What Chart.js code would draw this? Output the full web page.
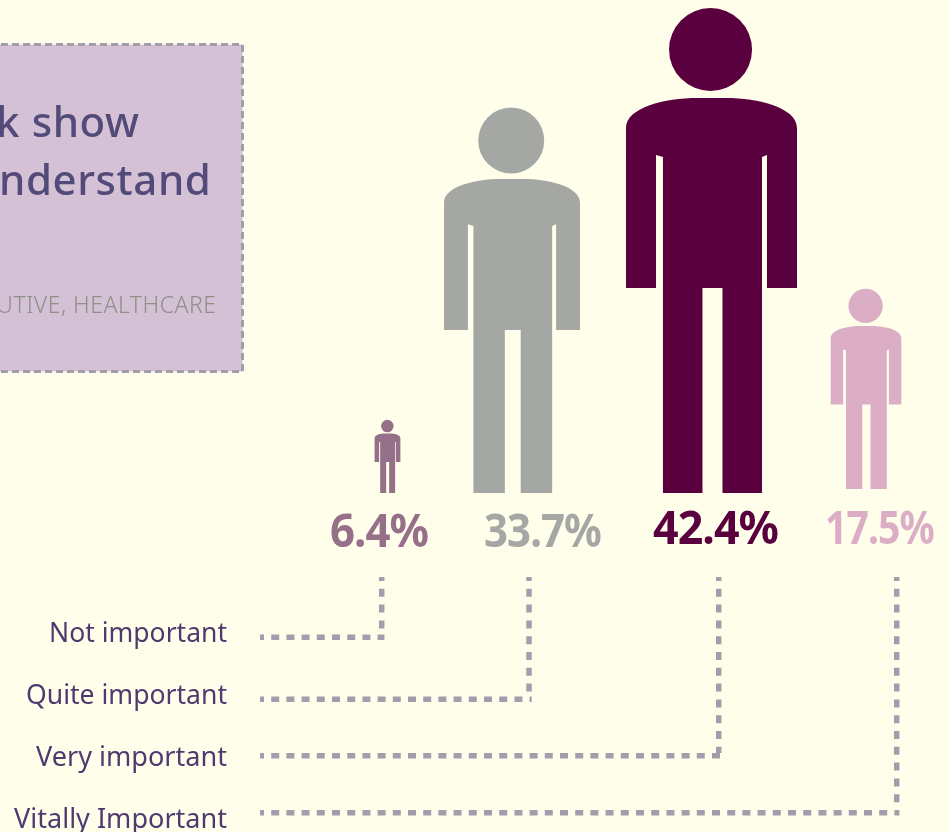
<!DOCTYPE html>
<html>
<head>
<meta charset="utf-8">
<title>Importance</title>
<style>
  html, body { margin: 0; padding: 0; background: #fffeeb; overflow: hidden; }
  canvas { display: block; }
</style>
<script src="https://cdn.jsdelivr.net/npm/chart.js@4/dist/chart.umd.min.js"></script>
</head>
<body>
<canvas id="chart" width="949" height="832"></canvas>
<script>
// data
const categories = ['Not important', 'Quite important', 'Very important', 'Vitally Important'];
const shares = [6.4, 33.7, 42.4, 17.5];
const titleLines = ['k show', 'nderstand'];
const sourceLine = 'UTIVE, HEALTHCARE';

// layout and styles, all in page pixels
const colors = ['#957088', '#a5a7a4', '#5a003f', '#dbaec5'];
const figureX = [387.5, 512, 711.5, 866];
const figureLift = [0, 0, 0, 0.35];
const valueX = [379, 542.5, 715.5, 879.5];
const valueBase = [547, 547, 544, 544];
const valueWidth = [98, 117, 125, 109];
const leaderY = [637.3, 699.3, 755.7, 812.7];
const leaderX = [381.7, 529, 718.7, 896.7];
const labelBase = [642, 704, 766, 828];
const labelWidth = [178, 201, 191, 213];
const W = 949, H = 832;
const baseY = 493, pxPerPct = 485 / 42.4;

const figureData = categories.map((c, i) => ({
  x: figureX[i],
  y: [figureLift[i], figureLift[i] + shares[i]]
}));

function leaderLine(label, points, dash) {
  return {
    type: 'line',
    label,
    yAxisID: 'yPx',
    data: points,
    borderColor: '#a29dab',
    borderWidth: 5.5,
    borderDash: dash,
    borderDashOffset: 4,
    pointRadius: 0,
    tension: 0,
    fill: false
  };
}

// across from the label, then a separate run down from the top so the dashes line up
const leaderSets = categories.flatMap((c, i) => [
  leaderLine(c, [{ x: 260, y: leaderY[i] }, { x: leaderX[i] + 2.7, y: leaderY[i] }], [8, 7.2]),
  leaderLine(c, [{ x: leaderX[i], y: 577 }, { x: leaderX[i], y: leaderY[i] - 2.7 }], [8, 7.8])
]);

// one person, proportions measured against total height
function drawPerson(ctx, cx, top, h, color) {
  const p = (dx, dy) => [cx + dx * h, top + dy * h];
  const off = 0.002;
  ctx.fillStyle = color;
  ctx.beginPath();
  ctx.arc(cx - off * h, top + 0.0856 * h, 0.0856 * h, 0, Math.PI * 2);
  ctx.fill();

  const shoulder = 0.1763, armIn = 0.1144, torso = 0.1021, gap = 0.0206;
  const topY = 0.1856, sideY = 0.2474, pitY = 0.303, pitY2 = 0.3072, crotch = 0.5773;
  ctx.beginPath();
  ctx.moveTo(...p(-shoulder, sideY));
  ctx.bezierCurveTo(...p(-shoulder, 0.205), ...p(-0.095, topY), ...p(-0.03, topY));
  ctx.lineTo(...p(0.03, topY));
  ctx.bezierCurveTo(...p(0.095, topY), ...p(shoulder, 0.205), ...p(shoulder, sideY));
  ctx.lineTo(...p(shoulder, crotch));
  ctx.lineTo(...p(armIn, crotch));
  ctx.lineTo(...p(armIn, pitY));
  ctx.lineTo(...p(torso + off, pitY2));
  ctx.lineTo(...p(torso + off, 1));
  ctx.lineTo(...p(gap + off, 1));
  ctx.lineTo(...p(gap + off, crotch));
  ctx.lineTo(...p(-gap + off, crotch));
  ctx.lineTo(...p(-gap + off, 1));
  ctx.lineTo(...p(-torso + off, 1));
  ctx.lineTo(...p(-torso + off, pitY2));
  ctx.lineTo(...p(-armIn, pitY));
  ctx.lineTo(...p(-armIn, crotch));
  ctx.lineTo(...p(-shoulder, crotch));
  ctx.closePath();
  ctx.fill();
}

const boxPlugin = {
  id: 'box',
  beforeDatasetsDraw(chart) {
    const ctx = chart.ctx;
    ctx.save();
    ctx.fillStyle = '#d5c1d6';
    ctx.fillRect(-10, 44.5, 252.5, 327);
    ctx.strokeStyle = '#a29dab';
    ctx.lineWidth = 3;
    ctx.setLineDash([7, 4]);
    ctx.strokeRect(-10, 44.5, 252.5, 327);
    ctx.setLineDash([]);

    ctx.textAlign = 'right';
    ctx.fillStyle = '#524a78';
    ctx.font = '500 42px "Noto Sans"';
    ctx.letterSpacing = '0.6px';
    ctx.fillText(titleLines[0], 139.5, 137);
    ctx.fillText(titleLines[1], 211.5, 195);
    ctx.fillStyle = '#8f8f88';
    ctx.font = '300 23px "Noto Sans"';
    ctx.letterSpacing = '0.5px';
    ctx.fillText(sourceLine, 216.5, 313);
    ctx.letterSpacing = '0px';
    ctx.restore();
  }
};

const figurePlugin = {
  id: 'figures',
  afterDatasetsDraw(chart) {
    const ctx = chart.ctx;
    const bars = chart.getDatasetMeta(0).data;
    ctx.save();
    bars.forEach((bar, i) => {
      drawPerson(ctx, bar.x, bar.y, bar.base - bar.y, colors[i]);

      ctx.textAlign = 'center';
      ctx.fillStyle = colors[i];
      ctx.font = '700 46px "Noto Sans"';
      ctx.letterSpacing = '-1px';
      ctx.fillText(shares[i] + '%', valueX[i], valueBase[i], valueWidth[i]);
      ctx.letterSpacing = '0px';

      ctx.textAlign = 'right';
      ctx.fillStyle = '#4f3a6f';
      ctx.font = '27.5px "Noto Sans"';
      ctx.fillText(categories[i], 227, labelBase[i], labelWidth[i]);
    });
    ctx.restore();
  }
};

new Chart(document.getElementById('chart'), {
  data: {
    datasets: [
      {
        type: 'bar',
        label: 'Share',
        yAxisID: 'y',
        data: figureData,
        backgroundColor: 'rgba(0,0,0,0)',
        barThickness: 10
      },
      ...leaderSets
    ]
  },
  options: {
    responsive: false,
    animation: false,
    devicePixelRatio: 1,
    layout: { padding: 0 },
    plugins: { legend: { display: false }, tooltip: { enabled: false } },
    scales: {
      x: { type: 'linear', min: 0, max: W, offset: false, display: false },
      y: { type: 'linear', min: (baseY - H) / pxPerPct, max: baseY / pxPerPct, display: false },
      yPx: { type: 'linear', min: 0, max: H, reverse: true, display: false }
    }
  },
  plugins: [boxPlugin, figurePlugin]
});
</script>
</body>
</html>
